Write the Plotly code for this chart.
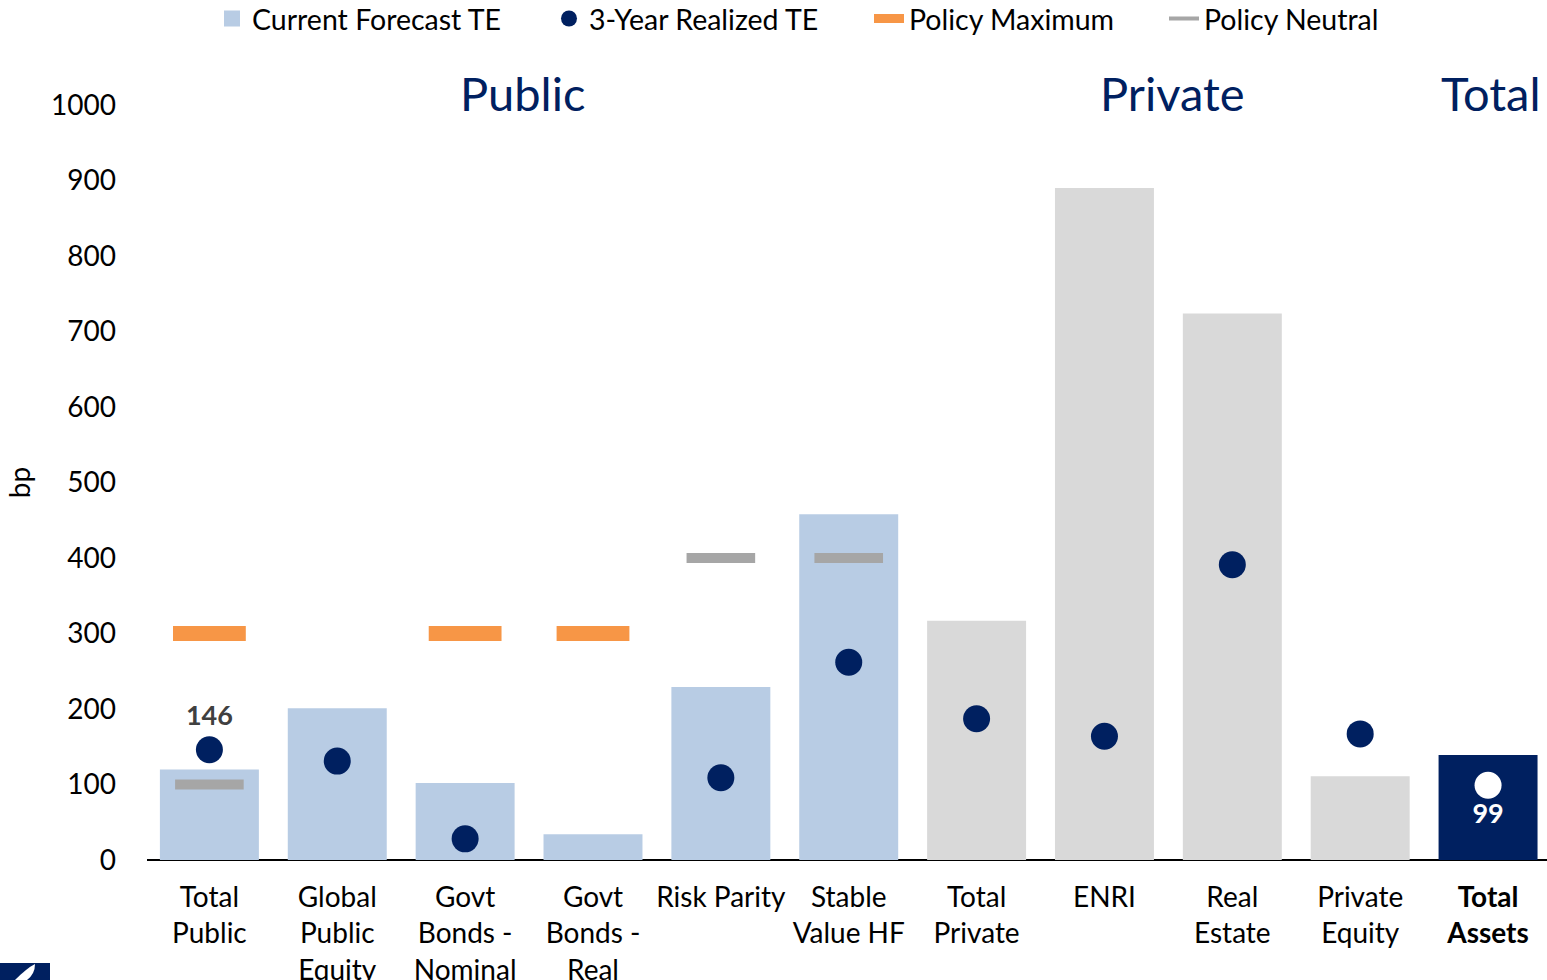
import plotly.graph_objects as go

categories = ["Total<br>Public", "Global<br>Public<br>Equity", "Govt<br>Bonds -<br>Nominal",
              "Govt<br>Bonds -<br>Real", "Risk Parity", "Stable<br>Value HF", "Total<br>Private",
              "ENRI", "Real<br>Estate", "Private<br>Equity", "<b>Total<br>Assets</b>"]
groups = ["Public"] * 6 + ["Private"] * 4 + ["Total"]
forecast_te = [120, 201, 102, 34, 229, 458, 317, 890, 724, 111, 139]
realized_te = [146, 131, 28, None, 109, 262, 187, 164, 391, 167, 99]
policy_max = [300, None, 300, 300, None, None, None, None, None, None, None]
policy_neutral = [100, None, None, None, 400, 400, None, None, None, None, None]
y_ticks = [0, 100, 200, 300, 400, 500, 600, 700, 800, 900, 1000]

LIGHT_BLUE = "#B8CCE4"
LIGHT_GREY = "#D9D9D9"
NAVY = "#002060"
ORANGE = "#F79646"
MID_GREY = "#A6A6A6"
FONT = "Lato"
W, H = 1547, 980

x = list(range(len(categories)))
group_colors = {"Public": LIGHT_BLUE, "Private": LIGHT_GREY, "Total": NAVY}
bar_colors = [group_colors[g] for g in groups]
dot_colors = [("white" if g == "Total" else NAVY) for g in groups]

# value labels shown only for the summary points
dot_text = ["" for _ in x]
dot_pos = ["top center" for _ in x]
dot_text_color = ["#404040" for _ in x]
dot_text[0] = f"<b>{realized_te[0]}</b>"
dot_text[-1] = f"<b>{realized_te[-1]}</b>"
dot_pos[-1] = "bottom center"
dot_text_color[-1] = "white"

fig = go.Figure()
fig.add_trace(go.Bar(
    x=x, y=forecast_te, name="Current Forecast TE", width=0.774,
    marker=dict(color=bar_colors, line=dict(width=0)),
    showlegend=False,
))
fig.add_trace(go.Scatter(
    x=x, y=policy_neutral, mode="markers", name="Policy Neutral",
    marker=dict(symbol="line-ew", size=49, line=dict(color=MID_GREY, width=10)),
    showlegend=False,
))
fig.add_trace(go.Scatter(
    x=x, y=policy_max, mode="markers", name="Policy Maximum",
    marker=dict(symbol="line-ew", size=52, line=dict(color=ORANGE, width=15)),
    showlegend=False,
))
fig.add_trace(go.Scatter(
    x=x, y=realized_te, mode="markers+text", name="3-Year Realized TE",
    marker=dict(color=dot_colors, size=27),
    text=dot_text, textposition=dot_pos,
    textfont=dict(family=FONT, size=27, color=dot_text_color),
    showlegend=False,
))

# legend entries, each in its own legend box so the spacing can be set
fig.add_trace(go.Scatter(x=[None], y=[None], mode="markers", name="Current Forecast TE",
                         marker=dict(symbol="square", color=LIGHT_BLUE, size=16),
                         legend="legend"))
fig.add_trace(go.Scatter(x=[None], y=[None], mode="markers", name="3-Year Realized TE",
                         marker=dict(color=NAVY, size=16), legend="legend2"))
fig.add_trace(go.Scatter(x=[None], y=[None], mode="lines", name="Policy Maximum",
                         line=dict(color=ORANGE, width=9), legend="legend3"))
fig.add_trace(go.Scatter(x=[None], y=[None], mode="lines", name="Policy Neutral",
                         line=dict(color=MID_GREY, width=4), legend="legend4"))

legend_text_left = {"legend": 254, "legend2": 591, "legend3": 911, "legend4": 1206}
legend_style = {}
for key, left in legend_text_left.items():
    legend_style[key] = dict(
        orientation="h", xref="container", yref="container",
        x=(left - 42) / W, xanchor="left", y=1 - 19 / H, yanchor="middle",
        font=dict(family=FONT, size=28.5, color="black"),
        bgcolor="rgba(0,0,0,0)", itemwidth=30,
    )

# group headers centred over their categories
header_shift = {"Public": -0.05, "Private": 0.03, "Total": 0.02}
for g in ["Public", "Private", "Total"]:
    idx = [i for i, gg in enumerate(groups) if gg == g]
    fig.add_annotation(x=(idx[0] + idx[-1]) / 2 + header_shift[g], y=1.0, xref="x",
                       yref="paper", text=g, showarrow=False, yanchor="middle", yshift=12,
                       font=dict(family=FONT, size=47, color=NAVY))

# corner logo block
fig.add_shape(type="rect", xref="paper", yref="paper", x0=-147 / 1400, x1=-97 / 1400,
              y0=-120 / 755, y1=-103 / 755, fillcolor=NAVY, line=dict(width=0), layer="above")
fig.add_shape(type="path", xref="paper", yref="paper", layer="above",
              path=("M %f %f Q %f %f %f %f Q %f %f %f %f Z" % (
                  -132 / 1400, -120 / 755, -120 / 1400, -108 / 755, -112 / 1400, -104 / 755,
                  -112 / 1400, -114 / 755, -120 / 1400, -120 / 755)),
              fillcolor="white", line=dict(width=0))

fig.update_layout(
    width=W, height=H,
    margin=dict(l=147, r=0, t=105, b=120),
    paper_bgcolor="white", plot_bgcolor="white",
    font=dict(family=FONT, size=28, color="black"),
    barmode="overlay",
    showlegend=True,
    xaxis=dict(
        range=[-0.488, 10.461], tickmode="array", tickvals=x, ticktext=categories,
        showgrid=False, zeroline=False, showline=False, automargin=False,
        ticks="", ticklabelstandoff=18,
    ),
    yaxis=dict(
        range=[0, 1000], tickmode="array", tickvals=y_ticks, automargin=False,
        showgrid=False, zeroline=True, zerolinecolor="black", zerolinewidth=2,
        ticks="", ticklabelstandoff=30,
        title=dict(text="bp", standoff=12, font=dict(family=FONT, size=28)),
    ),
    **legend_style,
)

fig.write_html("out.html")
